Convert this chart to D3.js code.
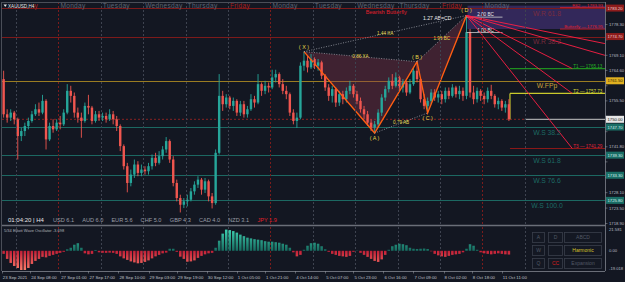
<!DOCTYPE html>
<html><head><meta charset="utf-8">
<script src="https://cdn.jsdelivr.net/npm/d3@7"></script>
<style>
html,body{margin:0;padding:0;background:#131722;overflow:hidden;}
svg{display:block;}
text{font-family:"Liberation Sans",Arial,sans-serif;}
</style></head><body>
<svg id="c" width="625" height="282"></svg>
<script>
// ---------------- DATA ----------------
const symbolTitle = "XAUUSD,H4";
const tradingDays = ["23 Sep","24 Sep","27 Sep","28 Sep","29 Sep","30 Sep","1 Oct","4 Oct","5 Oct","6 Oct","7 Oct","8 Oct","11 Oct"];
const dayNames    = ["Thursday","Friday","Monday","Tuesday","Wednesday","Thursday","Friday","Monday","Tuesday","Wednesday","Thursday","Friday","Monday","Tuesday"];
const firstOpen = 1762;
const closes = [
 1751.5,1750.5,1752,1750,
 1745,1746.5,1748,1749.5,1751.5,1753,1752,1755.5,1744,1748,1747,1749,
 1748.5,1752,1758.5,1757,1752,1750.5,1749.5,1754,1753.5,1749.5,1751.5,1750.5,
 1751,1750,1751.5,1750,1748,1742,1736,1731,1733.5,1736.5,1734,1735,
 1734.5,1736,1738.5,1737,1739,1741,1743.5,1738,1731,1726.5,1724.5,1725.5,
 1726,1728.5,1730.5,1732,1729,1731.5,1727,1725,1740,1757,1754.5,1756.5,
 1754,1755.5,1752,1754.5,1751.5,1753,1756,1755,1760.5,1758.5,1760,1759.5,
 1762.5,1763.5,1760.5,1758.5,1757.5,1752,1749.5,1750.5,1766,1767.5,1765.5,1768,
 1766,1767,1763,1759.5,1757,1759,1755,1757.5,1756,1758.5,1760,1757.5,
 1755.5,1753,1751.5,1749,1747.5,1748.5,1752,1756.5,1759,1761.5,1760,1762.5,
 1759.5,1761,1758,1760.5,1764.5,1762,1756,1754,1755.5,1758,1756.5,1757.5,
 1756,1758.5,1757,1759.5,1757.5,1758.5,1757,1776,1758,1756,1758.5,1757,
 1756,1758.5,1757,1754.5,1755.5,1753.5,1754.5,1750
];
const highs = [
 1764.5,1753,1753,1752.5,
 1750.5,1747.5,1749,1750.5,1752.5,1754.5,1755,1757.3,1756,1749,1750,1750,
 1751,1753,1760.5,1760,1758,1753.5,1752,1755,1757.3,1754,1752.5,1752.5,
 1752,1752,1753,1752.5,1751,1748.5,1742.5,1737,1735,1738,1737.5,1736.5,
 1736,1737,1739.5,1740,1740.5,1742,1744.7,1744,1739,1732,1727.5,1726.5,
 1727.5,1729.5,1731.5,1733,1732.5,1732.5,1732,1728,1741,1763.5,1758.5,1757.5,
 1757,1756.5,1756,1755.5,1755.5,1754,1757.5,1757,1763.5,1761,1761.5,1761,
 1764.8,1764.8,1764,1762,1760,1758,1753,1752,1767,1770.2,1769,1769.5,
 1768.5,1768,1767.5,1763.5,1760.5,1760,1759.5,1758.5,1758.5,1759.5,1761.5,1760.5,
 1758.5,1756.5,1754,1752.5,1750,1749.5,1753,1757.5,1760,1762.5,1763.5,1764,
 1763,1762,1761.5,1762,1765.5,1767.2,1762.5,1757.5,1756.5,1759,1759,1758.5,
 1758.5,1759.5,1759.5,1760.5,1760,1760,1759.5,1781,1777,1760,1759.5,1759,
 1758,1759.5,1760.3,1757.5,1756.5,1756,1755.5,1756
];
const lows = [
 1750.5,1749,1749.5,1748.5,
 1738,1743.5,1745,1747,1749,1751,1751,1751.5,1741,1743.5,1746,1746.5,
 1747,1748,1751.5,1755,1750.5,1749,1744.5,1749,1751.5,1748.5,1749,1749.5,
 1749.5,1749,1749.5,1748.5,1746.5,1740.5,1735,1728.2,1730,1732.5,1733,1733,
 1733.5,1733.5,1735,1736,1736.5,1738,1740,1737,1730,1725.5,1722.2,1723.5,
 1724,1725.5,1727.5,1729.5,1727.5,1728,1725.5,1723.4,1724.5,1739.5,1752.5,1753.5,
 1753,1752.5,1751,1751,1750.5,1750.5,1752.5,1753.5,1754.5,1757,1757.5,1758,
 1759,1761,1759.5,1757.5,1756,1751,1748.5,1747.4,1750,1764.5,1764,1765,
 1765,1764.5,1762,1758.5,1755.5,1755,1753.7,1754,1754.5,1755,1757.5,1756.5,
 1754.5,1752,1750,1748,1746.5,1745.9,1747.5,1751,1755.5,1758,1759,1759.5,
 1758.5,1758,1757,1757.5,1760,1761,1755,1753,1751.9,1754.5,1755.5,1755,
 1754.5,1755,1756,1756.5,1756.5,1756,1755.5,1756,1756.5,1754.5,1755,1755.5,
 1754.5,1755,1756,1753.5,1753,1752.5,1752,1749.5
];
const oscValues = [
 -3,-8,-12,-15,
 -17,-19,-19,-17,-13,-10,-8,-6,-6.5,-5,-4,-3,
 -2,-1,1.5,3,6,7.5,3,-2.5,-3.5,-3,0.8,-1.5,
 -2,-2,-1.8,-2,-3,-5.5,-7.5,-9,-10.5,-11.5,-12.4,-12,
 -11,-9.5,-7.5,-5.5,-4,-2.5,-1.8,2,2,-1,-5.8,-8,
 -10.8,-10.5,-9.5,-7,-5,-3.5,-2.5,-2,3,10,17,21,
 20.5,19.5,18,16,14.5,13,12.3,11.5,11,10.5,9.5,9,
 9,8.5,8,7,6,3,-1.5,-5.5,-4,1,5,7.5,
 8,7,4.5,1.5,-1,-3,-4,-5,-5.5,-6,-5,-1,
 0.3,-2,-4,-6,-8,-10,-11,-8.5,-4,1,4.5,6,
 7,6.5,5.5,3,2,1.8,2,2.2,1.8,-0.5,-3,-4.5,
 -5.5,-6,-5,-4,-3.5,-3,-1.5,2,6.5,5,1,-1.5,
 -2.5,-3,-3.5,-3,-2.5,-3,-3.5,-3.7
];
const oscTitle = "5/34 Elliott Wave Oscillator -3.698";
const oscTicks = [21.581, 0, -19.018];
const oscTickLabels = ["21.581","0.00","-19.018"];

const priceTicks = [1778.30,1773.70,1769.10,1764.60,1760.00,1755.50,1750.90,1746.30,1741.80,1737.30,1732.70,1728.10,1723.50,1718.90];

// Harmonic pattern (bar index, price)
const patternNames = ["X","A","B","C","D"];
const patternBars = [85,105,117,120,131];
const patternPrices = [1770.2,1745.9,1767.2,1751.9,1781.0];
const ratioLabels = ["0.86 XA","0.79 AB","1.98 BC","1.44 XA"];
const ratioFrom = [0,1,2,0];
const ratioTo = [2,3,4,4];
const patternTitle = "Bearish Butterfly";
const abcdLabel = "1.27 AB=CD";
const bcNames = ["2.00 BC","1.00 BC"];
const bcPrices = [1780.5,1775.9];
const zoneNames = ["R62","Butterfly"];
const zonePrices = [1783.93,1776.95];

// Weekly pivot levels
const levelNames = ["W.R 61.8","W.R 38.2","W.FPp","W.S 38.2","W.S 61.8","W.S 76.6","W.S 100.0"];
const levelKinds = ["r","r","p","s","s","s","s"];
const levelPrices = [1783.2,1774.7,1761.5,1747.7,1739.3,1733.3,1725.8];

// Targets
const targetNames = ["T1","T2","T3"];
const targetPrices = [1765.13,1757.73,1741.29];
const targetStart = 11.65;   // trading-day units
const targetLabelTime = 13.12;
const fanEndTimes = [13.12,13.12,13.12,13.89,13.89];
const fanEndPrices = [1765.13,1757.73,1741.29,1769.1,1772.6];

// Currency strength
const timer = "01:04:20 | H4";
const currencies = ["USD","AUD","EUR","CHF","GBP","CAD","NZD","JPY"];
const strengths = [6.1,6.0,5.6,5.0,4.3,4.0,3.1,1.9];

// Time axis labels
const timeLabelDays = ["23 Sep","24 Sep","27 Sep","27 Sep","28 Sep","29 Sep","29 Sep","30 Sep","1 Oct","1 Oct","4 Oct","5 Oct","5 Oct","6 Oct","7 Oct","8 Oct","8 Oct","11 Oct"];
const timeLabelHours = [16,8,1,17,10,3,19,12,5,21,14,7,23,16,9,2,18,11];

const buttonLabels = ["A","D","ABCD","W","","Harmonic","Q","CC","Expansion"];

// ---------------- LAYOUT ----------------
const PL = 2, PR = 605, MT = 2, MB = 225, OT = 227, OB = 271;
const svg = d3.select("#c");
const bg = "#131722";
svg.append("rect").attr("width",625).attr("height",282).attr("fill",bg);

const x = d3.scaleLinear().domain([0,12]).range([16,524.8]);
const y = d3.scaleLinear().domain([1718.90,1778.30]).range([223.5,24.5]);
const yo = d3.scaleLinear().domain([-19.018,21.581]).range([270,229]);
const dayIdx = {}; tradingDays.forEach((d,i)=>dayIdx[d]=i-1);

// bars
const bars = [];
tradingDays.forEach((day,i)=>{
  let hrs;
  if(i===0) hrs=[16,18,20,22];
  else if(i===tradingDays.length-1) hrs=d3.range(0,16,2);
  else hrs=d3.range(0,24,2);
  hrs.forEach(h=>bars.push({t:(i-1)+(h+1)/24}));
});
bars.forEach((b,k)=>{b.c=closes[k];b.h=highs[k];b.l=lows[k];b.o=k?closes[k-1]:firstOpen;b.v=oscValues[k];});
const last = closes[closes.length-1];

const defs = svg.append("defs");
defs.append("clipPath").attr("id","mc").append("rect").attr("x",PL).attr("y",MT).attr("width",PR-PL).attr("height",MB-MT);
defs.append("clipPath").attr("id","oc").append("rect").attr("x",PL).attr("y",OT).attr("width",PR-PL).attr("height",OB-OT);
defs.append("clipPath").attr("id","fc").append("rect").attr("x",33.5).attr("y",0).attr("width",40).attr("height",12);
const gp = defs.append("linearGradient").attr("id","gpos").attr("gradientUnits","userSpaceOnUse")
  .attr("x1",0).attr("x2",0).attr("y1",yo(0)).attr("y2",yo(21.581));
gp.append("stop").attr("offset",0).attr("stop-color","#166b5f");
gp.append("stop").attr("offset",1).attr("stop-color","#3fd2b2");
const gn = defs.append("linearGradient").attr("id","gneg").attr("gradientUnits","userSpaceOnUse")
  .attr("x1",0).attr("x2",0).attr("y1",yo(0)).attr("y2",yo(-19.018));
gn.append("stop").attr("offset",0).attr("stop-color","#c21e36");
gn.append("stop").attr("offset",1).attr("stop-color","#ff7b6a");

const main = svg.append("g").attr("clip-path","url(#mc)");

// purple zone
main.append("rect").attr("x",x(bars[patternBars[4]].t)+1).attr("width",PR-x(bars[patternBars[4]].t)-1)
  .attr("y",y(zonePrices[0])).attr("height",y(zonePrices[1])-y(zonePrices[0])).attr("fill","#33285a");

// day separators (main + osc)
const seps = d3.range(0,13);
[[MT,MB],[OT,OB]].forEach(([a,b])=>{
  svg.append("g").selectAll("line").data(seps).join("line")
    .attr("x1",d=>Math.round(x(d))+0.5).attr("x2",d=>Math.round(x(d))+0.5).attr("y1",a).attr("y2",b)
    .attr("stroke",d=>dayNames[d+1]==="Monday"?"#7a1c1c":"#3e4350").attr("stroke-dasharray","2,2").attr("stroke-width",1);
});

// pivot levels
const lvlColor = {r:"#7d1a1a",p:"#9a7c22",s:"#1c6862"};
const lvlText = {r:"#7a2c3e",p:"#c9a13a",s:"#1d6a64"};
main.selectAll("line.lvl").data(levelPrices).join("line").attr("class","lvl")
  .attr("x1",PL).attr("x2",PR).attr("y1",d=>Math.round(y(d))+0.5).attr("y2",d=>Math.round(y(d))+0.5)
  .attr("stroke",(d,i)=>lvlColor[levelKinds[i]]).attr("stroke-width",1);
// last price dashed
main.append("line").attr("x1",PL).attr("x2",x(12)).attr("y1",y(last)).attr("y2",y(last))
  .attr("stroke","#8a2222").attr("stroke-dasharray","2,2");
main.append("line").attr("x1",x(12)).attr("x2",PR).attr("y1",y(last)).attr("y2",y(last)).attr("stroke","#c8c8c8");

// targets
const tColor = ["#1f8f1f","#c9c92c","#8a1818"];
const tText = ["#25b025","#d8d83a","#e0223a"];
main.selectAll("line.tg").data(targetPrices).join("line").attr("class","tg")
  .attr("x1",x(targetStart)).attr("x2",PR).attr("y1",d=>y(d)).attr("y2",d=>y(d))
  .attr("stroke",(d,i)=>tColor[i]).attr("stroke-width",1.2);
main.append("line").attr("x1",x(targetStart)).attr("x2",x(targetStart)).attr("y1",y(targetPrices[1])).attr("y2",y(last))
  .attr("stroke",tColor[1]).attr("stroke-width",1.2);

// pattern
const P = patternNames.map((n,i)=>({n,x:x(bars[patternBars[i]].t),y:y(patternPrices[i])}));
const poly = pts=>pts.map(p=>p.x+","+p.y).join(" ");
main.append("polygon").attr("points",poly([P[0],P[1],P[2]])).attr("fill","#8a3549").attr("fill-opacity",0.38);
main.append("polygon").attr("points",poly([P[2],P[3],P[4]])).attr("fill","#8a3549").attr("fill-opacity",0.38);

// candles
const cg = main.append("g");
cg.selectAll("line").data(bars).join("line")
  .attr("x1",d=>x(d.t)).attr("x2",d=>x(d.t)).attr("y1",d=>y(d.h)).attr("y2",d=>y(d.l))
  .attr("stroke",d=>d.c>=d.o?"#26a69a":"#f0564f").attr("stroke-width",0.9);
cg.selectAll("rect").data(bars).join("rect")
  .attr("x",d=>x(d.t)-1.2).attr("width",2.4)
  .attr("y",d=>y(Math.max(d.o,d.c))).attr("height",d=>Math.max(0.8,Math.abs(y(d.o)-y(d.c))))
  .attr("fill",d=>d.c>=d.o?"#26a69a":"#f0564f");

// pattern lines
main.append("polyline").attr("points",poly(P)).attr("fill","none").attr("stroke","#ff5e12").attr("stroke-width",1.4);
ratioLabels.forEach((lab,i)=>{
  const a=P[ratioFrom[i]], b=P[ratioTo[i]];
  main.append("line").attr("x1",a.x).attr("y1",a.y).attr("x2",b.x).attr("y2",b.y)
    .attr("stroke","#9da0a8").attr("stroke-dasharray","1,1.5").attr("stroke-width",0.8);
  main.append("text").attr("x",(a.x+b.x)/2).attr("y",(a.y+b.y)/2+1.5).attr("text-anchor","middle")
    .attr("font-size",4.6).attr("fill","#e6d84a").text(lab);
});
{
  const a=P[0], b=P[4], f=0.82;
  main.append("text").attr("x",a.x+(b.x-a.x)*f).attr("y",a.y+(b.y-a.y)*f-2).attr("text-anchor","middle")
    .attr("font-size",5.2).attr("fill","#e8e8e8").text(abcdLabel);
}
main.append("text").attr("x",(P[0].x+P[4].x)/2+1).attr("y",y(zonePrices[0])+8).attr("text-anchor","middle")
  .attr("font-size",5.6).attr("fill","#e0202c").text(patternTitle);
P.forEach((p,i)=>{
  const below = (i===1||i===3);
  main.append("text").attr("x",p.x).attr("y",below?p.y+7:p.y-3).attr("text-anchor","middle")
    .attr("font-size",5.4).attr("fill","#e6d84a").text("( "+p.n+" )");
});
// BC lines
bcPrices.forEach((p,i)=>{
  main.append("line").attr("x1",P[4].x).attr("x2",P[4].x+36).attr("y1",y(p)).attr("y2",y(p)).attr("stroke","#d0d0d0").attr("stroke-width",0.8);
  main.append("text").attr("x",P[4].x+19).attr("y",y(p)-1).attr("text-anchor","middle").attr("font-size",4.6).attr("fill","#e8e8e8").text(bcNames[i]);
});
// fan lines
fanEndTimes.forEach((t,i)=>{
  main.append("line").attr("x1",P[4].x).attr("y1",P[4].y).attr("x2",x(t)).attr("y2",y(fanEndPrices[i]))
    .attr("stroke","#ff1f45").attr("stroke-width",0.9);
});
// zone lines + labels
zonePrices.forEach((p,i)=>{
  main.append("line").attr("x1",x(12.83)).attr("x2",PR).attr("y1",y(p)+ (i?0:2)).attr("y2",y(p)+(i?0:2)).attr("stroke","#d01f2a").attr("stroke-width",0.9);
  main.append("text").attr("x",PR-2).attr("y",y(p)+(i?-1.2:1)).attr("text-anchor","end").attr("font-size",4.4).attr("fill","#e0202c")
    .text(zoneNames[i]+" — "+p.toFixed(2));
});
// targets labels
targetPrices.forEach((p,i)=>{
  main.append("text").attr("x",x(targetLabelTime)+1).attr("y",y(p)-0.8).attr("font-size",4.6).attr("fill",tText[i])
    .text(targetNames[i]+" — "+p.toFixed(2));
});
// level labels
levelPrices.forEach((p,i)=>{
  main.append("text").attr("x",547).attr("y",y(p)+7.5).attr("text-anchor","middle").attr("font-size",6.8)
    .attr("fill",lvlText[levelKinds[i]]).text(levelNames[i]);
});

// ---------- oscillator ----------
const osc = svg.append("g").attr("clip-path","url(#oc)");
osc.selectAll("rect").data(bars).join("rect")
  .attr("x",d=>x(d.t)-1.25).attr("width",2.5)
  .attr("y",d=>Math.min(yo(0),yo(d.v))).attr("height",d=>Math.abs(yo(d.v)-yo(0)))
  .attr("fill",d=>d.v>=0?"url(#gpos)":"url(#gneg)");
svg.append("text").attr("x",4).attr("y",232).attr("font-size",4).attr("fill","#b0b3ba").text(oscTitle);

// buttons
const bx=[532,548,564], bw=[12,14,37], by=[232,245,258];
buttonLabels.forEach((lab,i)=>{
  const c=i%3, r=Math.floor(i/3);
  svg.append("rect").attr("x",bx[c]+0.5).attr("y",by[r]+0.5).attr("width",bw[c]).attr("height",10)
    .attr("fill","#141823").attr("stroke","#3a3f4b").attr("stroke-width",0.8);
  svg.append("text").attr("x",bx[c]+bw[c]/2+0.5).attr("y",by[r]+7).attr("text-anchor","middle").attr("font-size",5)
    .attr("fill",lab==="Harmonic"?"#d9c52a":lab==="CC"?"#d81e1e":"#525866").text(lab);
});

// ---------- frames ----------
svg.append("line").attr("x1",PL).attr("x2",PR).attr("y1",MB+0.5).attr("y2",MB+0.5).attr("stroke","#6a6e78").attr("stroke-width",1.6);
svg.append("line").attr("x1",PL).attr("x2",PR).attr("y1",OB+0.5).attr("y2",OB+0.5).attr("stroke","#6a6e78").attr("stroke-width",1);
svg.append("line").attr("x1",PR+0.5).attr("x2",PR+0.5).attr("y1",MT).attr("y2",OB).attr("stroke","#6a6e78").attr("stroke-width",1);
svg.append("line").attr("x1",1.5).attr("x2",1.5).attr("y1",MT).attr("y2",OB).attr("stroke","#4a4e58").attr("stroke-width",1);
svg.append("line").attr("x1",PL).attr("x2",PR).attr("y1",MT+0.5).attr("y2",MT+0.5).attr("stroke","#4a4e58").attr("stroke-width",1);

// ---------- right axis ----------
const ra = svg.append("g");
const boxFill = {r:"#8e1c1c",p:"#e0b020",s:"#1a6e66",w:"#e6e6e6"};
const boxText = {r:"#f0d0d0",p:"#2a2000",s:"#d8f0ec",w:"#111"};
const boxes = levelPrices.map((p,i)=>({p,k:levelKinds[i]})).concat([{p:last,k:"w"}]);
const freeTicks = priceTicks.filter(t=>boxes.every(b=>Math.abs(y(t)-y(b.p))>7.5));
ra.selectAll("text.pt").data(freeTicks).join("text").attr("class","pt").attr("x",609).attr("y",d=>y(d)+1.6)
  .attr("font-size",4.2).attr("fill","#b8bbc2").text(d=>d.toFixed(2));
ra.selectAll("line").data(priceTicks).join("line").attr("x1",PR).attr("x2",PR+2.5).attr("y1",d=>y(d)).attr("y2",d=>y(d)).attr("stroke","#8a8e98").attr("stroke-width",0.6);
boxes.forEach(b=>{
  ra.append("rect").attr("x",PR+1).attr("y",y(b.p)-3.5).attr("width",18).attr("height",7).attr("fill",boxFill[b.k]);
  ra.append("text").attr("x",PR+2.5).attr("y",y(b.p)+1.6).attr("font-size",4.2).attr("fill",boxText[b.k]).text(b.p.toFixed(2));
});
oscTicks.forEach((v,i)=>{
  ra.append("text").attr("x",609).attr("y",Math.min(OB-1,Math.max(OT+3,yo(v)+1.6))).attr("font-size",4.2).attr("fill","#b8bbc2").text(oscTickLabels[i]);
});

// ---------- bottom time axis ----------
const ta = svg.append("g");
timeLabelDays.forEach((d,i)=>{
  const xx = x(dayIdx[d]+timeLabelHours[i]/24);
  const txt = i===0? d+" 2021" : d+" "+String(timeLabelHours[i]).padStart(2,"0")+":00";
  ta.append("line").attr("x1",Math.round(xx)+0.5).attr("x2",Math.round(xx)+0.5).attr("y1",OB).attr("y2",OB+2.5).attr("stroke","#8a8e98").attr("stroke-width",0.6);
  ta.append("text").attr("x",xx+1).attr("y",278.5).attr("font-size",4.3).attr("fill","#c0c3ca").text(txt);
});

// ---------- top day labels ----------
seps.slice(0,12).forEach(d=>{
  const t = svg.append("text").attr("x",x(d)+2).attr("y",7.8).attr("font-family","DejaVu Sans Mono, monospace").attr("font-size",6.6)
    .attr("letter-spacing",0.3).attr("fill",dayNames[d+1]==="Friday"?"#a81e1e":"#5f6472").text(dayNames[d+1]);
  if(d===0) t.attr("clip-path","url(#fc)");
});
svg.append("path").attr("d","M3.5,4.5 L7,4.5 L5.25,7 Z").attr("fill","#e6e6e6");
svg.append("text").attr("x",8).attr("y",7.6).attr("font-size",4.6).attr("fill","#e6e6e6").text(symbolTitle);

// ---------- currency strength row ----------
svg.append("text").attr("x",8).attr("y",222).attr("font-size",6).attr("fill","#e6e6e6").text(timer);
currencies.forEach((c,i)=>{
  svg.append("text").attr("x",53+i*29.2).attr("y",222).attr("font-size",5.6)
    .attr("fill",c==="JPY"?"#e0202a":"#9a9da6").text(c+" "+strengths[i].toFixed(1));
});
</script>
</body></html>
